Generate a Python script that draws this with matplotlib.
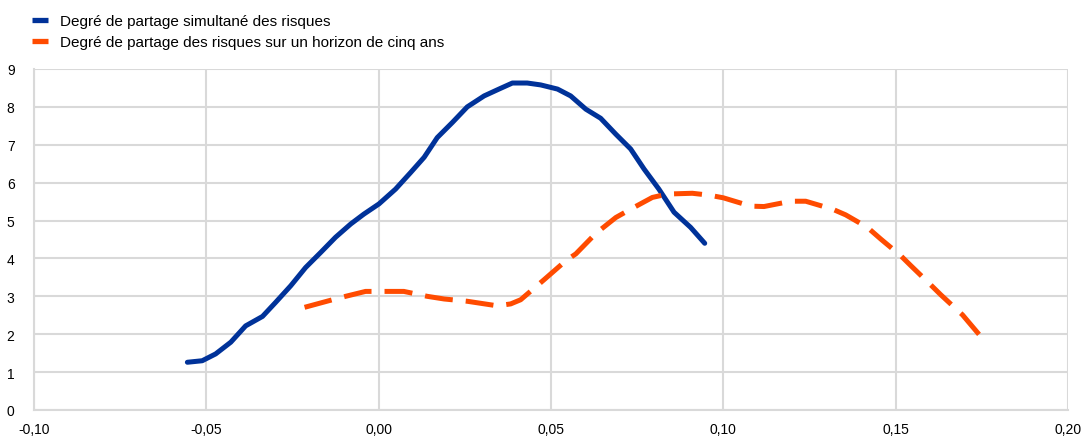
import matplotlib
matplotlib.use("Agg")
import matplotlib.pyplot as plt
from matplotlib.lines import Line2D
from matplotlib.ticker import FuncFormatter, MultipleLocator

plt.rcParams['font.family'] = ['Liberation Sans', 'DejaVu Sans']

# Simultaneous risk sharing degree
x_simul = [-0.0555, -0.0512, -0.0473, -0.0429, -0.0386, -0.0337, -0.0299, -0.0255,
           -0.0212, -0.0168, -0.0125, -0.0081, -0.0043, 0.0001, 0.0049, 0.0093,
           0.0132, 0.0170, 0.0214, 0.0257, 0.0306, 0.0349, 0.0388, 0.0431,
           0.0470, 0.0519, 0.0557, 0.0601, 0.0644, 0.0688, 0.0731, 0.0770,
           0.0813, 0.0857, 0.0905, 0.0946]
y_simul = [1.26, 1.30, 1.48, 1.79, 2.22, 2.47, 2.84, 3.28,
           3.76, 4.16, 4.56, 4.91, 5.17, 5.44, 5.83, 6.27,
           6.67, 7.19, 7.59, 8.00, 8.29, 8.47, 8.63, 8.63,
           8.58, 8.47, 8.29, 7.94, 7.70, 7.28, 6.89, 6.36,
           5.83, 5.22, 4.82, 4.40]

# Five-year horizon risk sharing degree
x_five = [-0.0215, -0.0134, -0.0096, -0.0038, 0.0015, 0.0073, 0.0141, 0.0190,
          0.0257, 0.0344, 0.0383, 0.0412, 0.0480, 0.0543, 0.0572, 0.0630,
          0.0688, 0.0731, 0.0794, 0.0838, 0.0910, 0.0959, 0.1000, 0.1080,
          0.1118, 0.1196, 0.1239, 0.1317, 0.1355, 0.1418, 0.1457, 0.1515,
          0.1544, 0.1602, 0.1631, 0.1694, 0.1747]
y_five = [2.71, 2.91, 3.00, 3.13, 3.13, 3.13, 3.00, 2.93,
          2.87, 2.75, 2.80, 2.91, 3.44, 3.94, 4.12, 4.66,
          5.08, 5.30, 5.61, 5.70, 5.72, 5.67, 5.60, 5.38,
          5.37, 5.51, 5.51, 5.30, 5.15, 4.82, 4.51, 4.07,
          3.81, 3.30, 3.04, 2.51, 1.94]

labels = ["Degré de partage simultané des risques",
          "Degré de partage des risques sur un horizon de cinq ans"]

blue = "#003299"
orange = "#FF4B00"
grid_col = "#d9d9d9"

fig = plt.figure(figsize=(10.85, 4.39), dpi=100)
ax = fig.add_axes([34 / 1085, 1 - 411 / 439, (1068 - 34) / 1085, (411 - 70) / 439])

ax.plot(x_simul, y_simul, color=blue, lw=3.6, solid_capstyle='round',
        solid_joinstyle='round')
ax.plot(x_five, y_five, color=orange, lw=3.6, dashes=(5.6, 2.6),
        dash_capstyle='butt', dash_joinstyle='round')

ax.set_xlim(-0.10, 0.20)
ax.set_ylim(0, 9)
ax.xaxis.set_major_locator(MultipleLocator(0.05))
ax.yaxis.set_major_locator(MultipleLocator(1))
ax.xaxis.set_major_formatter(FuncFormatter(lambda v, p: f"{v:.2f}".replace('.', ',').replace('-0,00', '0,00')))
ax.yaxis.set_major_formatter(FuncFormatter(lambda v, p: f"{v:.0f}"))

ax.grid(True, color=grid_col, lw=1.5)
ax.set_axisbelow(True)
for side in ['top', 'right']:
    ax.spines[side].set_visible(False)
for side in ['left', 'bottom']:
    ax.spines[side].set_color(grid_col)
    ax.spines[side].set_linewidth(1.5)
ax.tick_params(length=0, labelsize=10, colors='black')
ax.tick_params(axis='x', pad=9)
ax.tick_params(axis='y', pad=14)

handles = [Line2D([], [], color=blue, lw=3.8, solid_capstyle='butt'),
           Line2D([], [], color=orange, lw=3.8, solid_capstyle='butt')]
fig.legend(handles, labels, loc='upper left', bbox_to_anchor=(32 / 1085, 1 - 15 / 439),
           frameon=False, fontsize=11, handlelength=1.05, handletextpad=0.8,
           labelspacing=0.45, borderaxespad=0, borderpad=0)

fig.savefig("out.png", dpi=100)
